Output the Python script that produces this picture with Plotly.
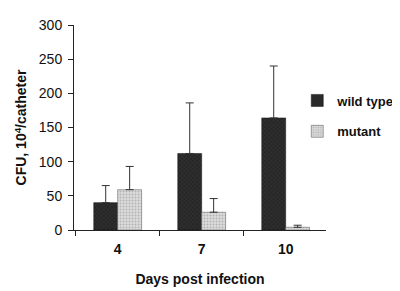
import plotly.graph_objects as go

days = ["4", "7", "10"]
wild_type = [40, 112, 164]
wild_type_err = [25, 74, 76]
mutant = [59, 26, 4]
mutant_err = [34, 20, 3]
y_ticks = [0, 50, 100, 150, 200, 250, 300]

fig = go.Figure()
fig.add_trace(go.Bar(
    x=days, y=wild_type, name="<b>wild type</b>", legendgroup="a",
    marker=dict(color="#262626", line=dict(color="#111", width=0.5),
                pattern=dict(shape="x", size=3, solidity=0.3, fgcolor="#0a0a0a", bgcolor="#2e2e2e")),
    error_y=dict(type="data", symmetric=False, array=wild_type_err, arrayminus=[0, 0, 0],
                 color="#333", thickness=1, width=4),
))
fig.add_trace(go.Bar(
    x=days, y=mutant, name="<b>mutant</b>", legendgroup="b",
    marker=dict(color="#c4c4c4", line=dict(color="#555", width=0.5),
                pattern=dict(shape=".", size=3, solidity=0.35, fgcolor="#8a8a8a", bgcolor="#dcdcdc")),
    error_y=dict(type="data", symmetric=False, array=mutant_err, arrayminus=[0, 0, 0],
                 color="#333", thickness=1, width=4),
))

fig.update_layout(
    width=400, height=291,
    margin=dict(l=66, r=70, t=9, b=69),
    paper_bgcolor="white", plot_bgcolor="white",
    barmode="group", bargap=0.43, bargroupgap=0,
    font=dict(family="Liberation Sans, Arial, sans-serif", color="#111"),
    showlegend=True,
    legend=dict(x=0.886, xanchor="left", y=0.705, yanchor="top",
                traceorder="grouped", tracegroupgap=11,
                font=dict(size=13, family="Liberation Sans, Arial, sans-serif", color="#111"),
                bgcolor="rgba(0,0,0,0)", borderwidth=0),
)
fig.update_xaxes(
    type="category", range=[-0.52, 2.48],
    showline=True, linecolor="#222", linewidth=1,
    ticks="outside", tickson="boundaries", ticklen=5, tickcolor="#222",
    ticklabelstandoff=6,
    tickfont=dict(size=14, family="Liberation Sans, Arial, sans-serif", color="#111", weight="bold"),
    showgrid=False, zeroline=False,
    title=dict(text="<b>Days post infection</b>", font=dict(size=14), standoff=18),
)
fig.update_yaxes(
    range=[0, 300], tickvals=y_ticks,
    showline=True, linecolor="#222", linewidth=1,
    ticks="outside", ticklen=5, tickcolor="#222",
    ticklabelstandoff=3,
    tickfont=dict(size=14, color="#111"),
    showgrid=False, zeroline=False,
    title=dict(text="<b>CFU, 10<sup>4</sup>/catheter</b>", font=dict(size=14), standoff=8),
)

fig.write_html("out.html")
